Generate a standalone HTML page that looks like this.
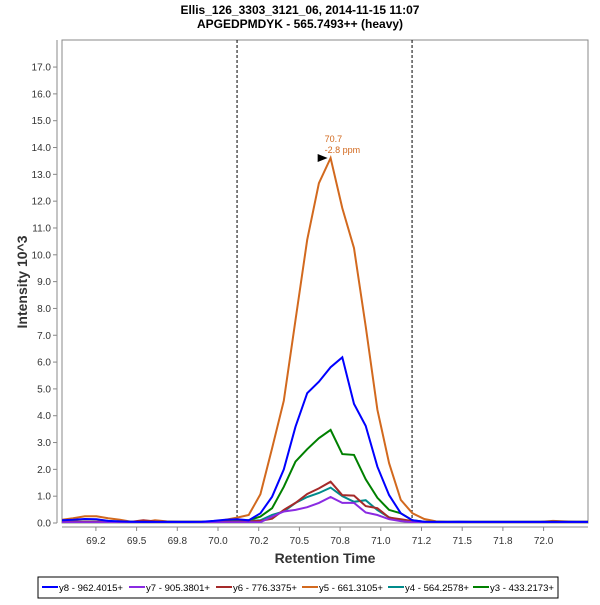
<!DOCTYPE html>
<html><head><meta charset="utf-8"><style>
body{margin:0;background:#fff;font-family:"Liberation Sans",sans-serif;}
svg text{font-family:"Liberation Sans",sans-serif;}
</style></head><body>
<svg id="chart" width="600" height="600" viewBox="0 0 600 600">
<rect width="600" height="600" fill="#fff"/>
<text x="300" y="14" text-anchor="middle" font-size="12" font-weight="bold">Ellis_126_3303_3121_06, 2014-11-15 11:07</text>
<text x="300" y="28" text-anchor="middle" font-size="12" font-weight="bold">APGEDPMDYK - 565.7493++ (heavy)</text>
<rect x="62" y="40" width="526" height="483" fill="#fff" stroke="#888"/>
<g id="yaxis"></g>
<g id="xaxis"></g>
<g id="series"></g>
<text transform="translate(27,282) rotate(-90)" text-anchor="middle" font-size="14" font-weight="bold" fill="#333">Intensity 10^3</text>
<text x="325" y="563" text-anchor="middle" font-size="14" font-weight="bold" fill="#333">Retention Time</text>
<g id="legend"><rect x="38" y="577" width="520" height="21" fill="#fff" stroke="#000"/></g>
</svg>
<script>
const seriesNames=["y8 - 962.4015+","y7 - 905.3801+","y6 - 776.3375+","y5 - 661.3105+","y4 - 564.2578+","y3 - 433.2173+"];
const seriesColors=["#0000ff","#8a2be2","#a52a2a","#d2691e","#008b8b","#008000"];
const t0=69.038, dt=0.0719;
const y8=[0.1,0.12,0.15,0.14,0.08,0.06,0.05,0.04,0.04,0.04,0.04,0.04,0.05,0.08,0.12,0.14,0.1,0.36,0.98,2.0,3.59,4.84,5.27,5.81,6.18,4.44,3.62,2.1,1.04,0.36,0.1,0.05,0.04,0.04,0.05,0.04,0.04,0.04,0.04,0.04,0.04,0.04,0.04,0.04,0.04,0.04];
const y7=[0.03,0.03,0.03,0.03,0.03,0.03,0.03,0.03,0.03,0.03,0.03,0.03,0.03,0.03,0.03,0.03,0.03,0.03,0.24,0.43,0.49,0.59,0.75,0.97,0.75,0.75,0.39,0.3,0.14,0.07,0.03,0.03,0.03,0.03,0.03,0.03,0.03,0.03,0.03,0.03,0.03,0.03,0.03,0.03,0.03,0.03];
const y6=[0.05,0.05,0.05,0.05,0.05,0.05,0.05,0.1,0.06,0.05,0.05,0.05,0.05,0.05,0.05,0.05,0.06,0.08,0.16,0.49,0.75,1.08,1.29,1.54,1.04,1.02,0.63,0.55,0.2,0.14,0.07,0.05,0.04,0.04,0.04,0.04,0.04,0.04,0.04,0.04,0.04,0.04,0.04,0.04,0.04,0.04];
const y5=[0.12,0.18,0.25,0.25,0.18,0.12,0.05,0.03,0.1,0.06,0.04,0.03,0.03,0.05,0.12,0.2,0.3,1.07,2.79,4.56,7.57,10.56,12.67,13.61,11.74,10.25,7.33,4.22,2.23,0.86,0.36,0.15,0.06,0.04,0.04,0.04,0.04,0.04,0.04,0.04,0.04,0.05,0.08,0.06,0.05,0.05];
const y4=[0.04,0.04,0.04,0.04,0.04,0.04,0.04,0.04,0.04,0.04,0.04,0.04,0.04,0.04,0.05,0.06,0.08,0.1,0.3,0.43,0.75,0.97,1.12,1.32,1.0,0.79,0.85,0.48,0.21,0.1,0.07,0.04,0.04,0.04,0.04,0.04,0.04,0.04,0.04,0.04,0.04,0.04,0.04,0.04,0.04,0.04];
const y3=[0.05,0.05,0.05,0.05,0.05,0.05,0.05,0.05,0.05,0.05,0.05,0.05,0.05,0.05,0.06,0.08,0.1,0.24,0.55,1.35,2.29,2.75,3.16,3.47,2.57,2.54,1.63,0.94,0.49,0.36,0.1,0.05,0.04,0.04,0.04,0.04,0.04,0.04,0.04,0.04,0.04,0.04,0.04,0.04,0.04,0.04];
const seriesData=[y8,y7,y6,y5,y4,y3];
const yTicks=[0,1,2,3,4,5,6,7,8,9,10,11,12,13,14,15,16,17];
const xTicks=[69.25,69.5,69.75,70.0,70.25,70.5,70.75,71.0,71.25,71.5,71.75,72.0];
const xTickLabels=["69.2","69.5","69.8","70.0","70.2","70.5","70.8","71.0","71.2","71.5","71.8","72.0"];
const boundaries=[70.117,71.192];
const peakTime=70.692, peakValue=13.61;

const NS="http://www.w3.org/2000/svg";
const X=t=>218+(t-70.0)*162.8;
const Y=v=>523-v*26.82;
function mk(tag,attrs,parent){const e=document.createElementNS(NS,tag);for(const k in attrs)e.setAttribute(k,attrs[k]);parent.appendChild(e);return e;}
const ya=document.getElementById('yaxis'),xa=document.getElementById('xaxis'),sg=document.getElementById('series'),lg=document.getElementById('legend');
mk('line',{x1:57,y1:40,x2:57,y2:523,stroke:'#888'},ya);
yTicks.forEach(v=>{
  const l=mk('line',{x1:53,x2:57,y1:Y(v),y2:Y(v),stroke:'#888'},ya);
  
  
  const t=mk('text',{x:51,y:Y(v)+3.5,'text-anchor':'end','font-size':10,fill:'#333'},ya);
  t.textContent=v.toFixed(1);
  
  
});
mk('line',{x1:62,y1:527,x2:588,y2:527,stroke:'#888'},xa);
xTicks.forEach((v,i)=>{
  const l=mk('line',{x1:X(v),x2:X(v),y1:527,y2:531,stroke:'#888'},xa);
  
  
  const t=mk('text',{x:X(v),y:544,'text-anchor':'middle','font-size':10,fill:'#333'},xa);
  t.textContent=xTickLabels[i];
  
  
});
boundaries.forEach(b=>{
  const l=mk('line',{x1:X(b),x2:X(b),y1:40,y2:523,stroke:'#000','stroke-dasharray':'3,2','stroke-width':1},sg);
  
  
});
const defs=mk('defs',{},document.getElementById('chart'));
const cp=mk('clipPath',{id:'clip'},defs);mk('rect',{x:62,y:40,width:526,height:483},cp);
const order=[0,1,2,4,5,3];
order.slice().reverse().forEach(si=>{
  const pts=seriesData[si].map((v,i)=>X(t0+i*dt).toFixed(1)+','+Y(v).toFixed(1)).join(' ');
  const p=mk('polyline',{points:pts,fill:'none',stroke:seriesColors[si],'stroke-width':2,'clip-path':'url(#clip)'},sg);
  
  
});
const px=X(peakTime),py=Y(peakValue);
const arrow=mk('polygon',{points:`${px-13},${py-4} ${px-3},${py} ${px-13},${py+4}`,fill:'#000'},sg);


const a1=mk('text',{x:px-6,y:py-16,'font-size':9,fill:'#d2691e'},sg);a1.textContent=peakTime.toFixed(1);


const a2=mk('text',{x:px-6,y:py-5,'font-size':9,fill:'#d2691e'},sg);a2.textContent='-2.8 ppm';


const lx=[42,129,216,302,388,473];
seriesNames.forEach((n,i)=>{
  const g=mk('g',{},lg);
  
  
  mk('line',{x1:lx[i],x2:lx[i]+16,y1:587,y2:587,stroke:seriesColors[i],'stroke-width':2},g);
  const t=mk('text',{x:lx[i]+17,y:591,'font-size':9.5,fill:'#000',textLength:64,lengthAdjust:'spacingAndGlyphs'},g);t.textContent=n;
});
</script>
</body></html>
